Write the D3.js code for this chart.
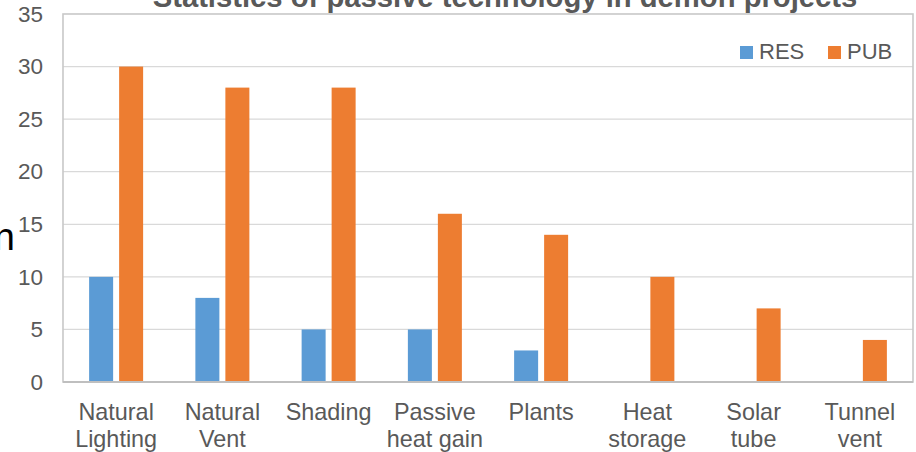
<!DOCTYPE html>
<html>
<head>
<meta charset="utf-8">
<script src="https://cdn.jsdelivr.net/npm/d3@7/dist/d3.min.js"></script>
<style>
  html, body { margin: 0; padding: 0; background: #fff; }
  svg { display: block; }
  text { font-family: "Liberation Sans", Arial, sans-serif; }
</style>
</head>
<body>
<svg id="chart" width="916" height="452"></svg>
<script>
const categories = [
  ["Natural", "Lighting"],
  ["Natural", "Vent"],
  ["Shading"],
  ["Passive", "heat gain"],
  ["Plants"],
  ["Heat", "storage"],
  ["Solar", "tube"],
  ["Tunnel", "vent"]
];
const seriesNames = ["RES", "PUB"];
const resValues = [10, 8, 5, 5, 3, 0, 0, 0];
const pubValues = [30, 28, 28, 16, 14, 10, 7, 4];
const yTicks = [0, 5, 10, 15, 20, 25, 30, 35];
const titleText = "Statistics of passive technology in demon projects";
const colors = { RES: "#5B9BD5", PUB: "#ED7D31" };

const svg = d3.select("#chart");
const pLeft = 63, pRight = 913, pTop = 14, pBottom = 382;

const catKeys = categories.map((c, i) => i);
const x0 = d3.scaleBand().domain(catKeys).range([pLeft, pRight]).paddingInner(0).paddingOuter(0);
const groupW = 54;
const x1 = d3.scaleBand().domain(seriesNames).range([0, groupW]).paddingInner(0.2).paddingOuter(0);
const y = d3.scaleLinear().domain([0, 35]).range([pBottom, pTop]);

// gridlines
svg.append("g").selectAll("line").data(yTicks.filter(t => t > 0 && t < 35)).join("line")
  .attr("x1", pLeft).attr("x2", pRight)
  .attr("y1", d => y(d)).attr("y2", d => y(d))
  .attr("stroke", "#d9d9d9").attr("stroke-width", 1.2);

// y axis labels
const yAxis = d3.axisLeft(y).tickValues(yTicks).tickSize(0).tickPadding(0);
const yg = svg.append("g").attr("transform", `translate(43,0)`).call(yAxis);
yg.select(".domain").remove();
yg.selectAll("text").attr("font-size", 22.5).attr("fill", "#595959")
  .attr("font-family", "Liberation Sans, Arial, sans-serif");

// bars
const data = categories.map((c, i) => ({ i, RES: resValues[i], PUB: pubValues[i] }));
const groups = svg.append("g").selectAll("g").data(data).join("g")
  .attr("transform", d => `translate(${x0(d.i) + (x0.bandwidth() - groupW) / 2},0)`);
groups.selectAll("rect").data(d => seriesNames.map(s => ({ s, v: d[s] })).filter(e => e.v > 0)).join("rect")
  .attr("x", d => x1(d.s))
  .attr("width", x1.bandwidth())
  .attr("y", d => y(d.v))
  .attr("height", d => y(0) - y(d.v))
  .attr("fill", d => colors[d.s]);

// plot border
svg.append("rect").attr("x", pLeft).attr("y", pTop).attr("width", pRight - pLeft).attr("height", pBottom - pTop)
  .attr("fill", "none").attr("stroke", "#c8c8c8").attr("stroke-width", 1.6);
svg.append("line").attr("x1", pLeft).attr("x2", pRight).attr("y1", pBottom).attr("y2", pBottom)
  .attr("stroke", "#bfbfbf").attr("stroke-width", 2);

// x labels
const xl = svg.append("g").selectAll("text").data(categories).join("text")
  .attr("text-anchor", "middle")
  .attr("font-size", 23.4).attr("fill", "#595959")
  .attr("x", (d, i) => x0(i) + x0.bandwidth() / 2)
  .attr("y", 420);
xl.selectAll("tspan").data(d => d).join("tspan")
  .attr("x", function() { return this.parentNode.getAttribute("x"); })
  .attr("dy", (d, j) => j === 0 ? 0 : 27)
  .text(d => d);

// title
const title = svg.append("text").attr("x", 505).attr("y", 7).attr("text-anchor", "middle")
  .attr("font-size", 23).attr("font-weight", "bold").attr("fill", "#595959").text(titleText);
const tw = title.node().getComputedTextLength();
title.attr("font-size", 23 * 705 / tw);

// legend
const legend = svg.append("g");
const legendX = [740, 828];
seriesNames.forEach((s, k) => {
  legend.append("rect").attr("x", legendX[k]).attr("y", 46).attr("width", 13).attr("height", 13).attr("fill", colors[s]);
  legend.append("text").attr("x", legendX[k] + 19).attr("y", 58.5).attr("font-size", 22).attr("fill", "#595959").text(s);
});

// cut-off text fragment at left
svg.append("text").attr("x", 15).attr("y", 250).attr("text-anchor", "end")
  .attr("font-size", 38).attr("fill", "#000").text("n");
</script>
</body>
</html>
